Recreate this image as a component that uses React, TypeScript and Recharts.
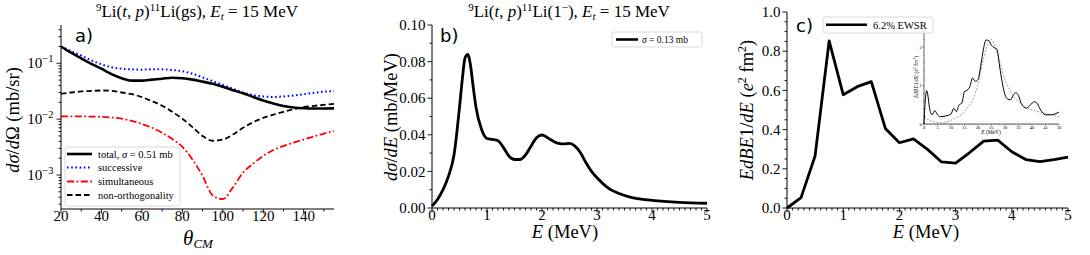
import React from 'react';
import { LineChart, Line, XAxis, YAxis } from 'recharts';

const SERIF = '"Liberation Serif", "DejaVu Serif", serif';
const SANS = '"DejaVu Sans", sans-serif';

// ---------- Panel a: 9Li(t,p)11Li(gs) angular distributions ----------
const thetaDeg = [20, 25, 30, 35, 40, 45, 50, 55, 60, 65, 70, 75, 80, 85, 90, 95, 100, 105, 110, 115, 120, 125, 130, 135, 140, 145, 150, 155];
const totalXS = [0.2, 0.155, 0.123, 0.098, 0.08, 0.064, 0.054, 0.049, 0.049, 0.051, 0.053, 0.055, 0.054, 0.051, 0.047, 0.043, 0.038, 0.033, 0.029, 0.025, 0.0215, 0.019, 0.0172, 0.0162, 0.0157, 0.0155, 0.0155, 0.0156];
const successiveXS = [0.2, 0.165, 0.138, 0.113, 0.096, 0.085, 0.08, 0.078, 0.077, 0.078, 0.078, 0.076, 0.072, 0.065, 0.056, 0.048, 0.041, 0.035, 0.03, 0.027, 0.0255, 0.025, 0.0255, 0.0265, 0.028, 0.0295, 0.031, 0.032];
const simultaneousXS = [0.0112, 0.0112, 0.0112, 0.0111, 0.011, 0.0107, 0.0102, 0.0093, 0.0082, 0.007, 0.0057, 0.0044, 0.0032, 0.0019, 0.00096, 0.00043, 0.00037, 0.0006, 0.0011, 0.0016, 0.0022, 0.0028, 0.0033, 0.0038, 0.0043, 0.0049, 0.0055, 0.0061];
const nonOrthXS = [0.0284, 0.03, 0.0313, 0.032, 0.0326, 0.032, 0.03, 0.028, 0.0248, 0.021, 0.0174, 0.0135, 0.0102, 0.0072, 0.005, 0.0041, 0.0043, 0.0053, 0.007, 0.0088, 0.0105, 0.012, 0.0135, 0.015, 0.0165, 0.0173, 0.018, 0.0188];
const thetaMajorTicks = [20, 40, 60, 80, 100, 120, 140];
const thetaMinorTicks = [30, 50, 70, 90, 110, 130, 150];
const logMajorTicks = [0.001, 0.01, 0.1];
const logMajorLabels = ['−3', '−2', '−1'];
const logMinorTicks = [0.0003, 0.0004, 0.0005, 0.0006, 0.0007, 0.0008, 0.0009, 0.002, 0.003, 0.004, 0.005, 0.006, 0.007, 0.008, 0.009, 0.02, 0.03, 0.04, 0.05, 0.06, 0.07, 0.08, 0.09, 0.2, 0.3, 0.4];

// ---------- Panel b: 9Li(t,p)11Li(1-) ----------
const energyB = [0, 0.1, 0.2, 0.3, 0.4, 0.5, 0.55, 0.6, 0.65, 0.7, 0.75, 0.8, 0.9, 1.0, 1.1, 1.2, 1.3, 1.4, 1.5, 1.6, 1.7, 1.8, 1.9, 2.0, 2.1, 2.2, 2.3, 2.4, 2.5, 2.6, 2.7, 2.8, 2.9, 3.0, 3.2, 3.4, 3.6, 3.8, 4.0, 4.5, 5.0];
const dsdeB = [0.001, 0.0046, 0.01, 0.0174, 0.029, 0.055, 0.07, 0.082, 0.084, 0.078, 0.066, 0.055, 0.043, 0.038, 0.0375, 0.0368, 0.033, 0.0283, 0.0265, 0.0265, 0.029, 0.0338, 0.0384, 0.0399, 0.0384, 0.0366, 0.0353, 0.035, 0.0353, 0.0338, 0.0302, 0.0247, 0.02, 0.0165, 0.011, 0.0079, 0.006, 0.0049, 0.0042, 0.0031, 0.0026];
const bXMajor = [0, 1, 2, 3, 4, 5];
const bXMinor = [0.1, 0.2, 0.3, 0.4, 0.5, 0.6, 0.7, 0.8, 0.9, 1.1, 1.2, 1.3, 1.4, 1.5, 1.6, 1.7, 1.8, 1.9, 2.1, 2.2, 2.3, 2.4, 2.5, 2.6, 2.7, 2.8, 2.9, 3.1, 3.2, 3.3, 3.4, 3.5, 3.6, 3.7, 3.8, 3.9, 4.1, 4.2, 4.3, 4.4, 4.5, 4.6, 4.7, 4.8, 4.9];
const bYMajor = [0, 0.02, 0.04, 0.06, 0.08, 0.1];
const bYMinor = [0.01, 0.03, 0.05, 0.07, 0.09];

// ---------- Panel c: E dB(E1)/dE ----------
const energyC = [0, 0.25, 0.5, 0.75, 1.0, 1.25, 1.5, 1.75, 2.0, 2.25, 2.5, 2.75, 3.0, 3.25, 3.5, 3.75, 4.0, 4.25, 4.5, 4.75, 5.0];
const bE1C = [0.0, 0.053, 0.266, 0.853, 0.578, 0.619, 0.645, 0.406, 0.333, 0.353, 0.299, 0.235, 0.229, 0.283, 0.341, 0.346, 0.287, 0.247, 0.237, 0.247, 0.259];
const cYMajor = [0, 0.2, 0.4, 0.6, 0.8, 1.0];
const cYMinor = [0.05, 0.1, 0.15, 0.25, 0.3, 0.35, 0.45, 0.5, 0.55, 0.65, 0.7, 0.75, 0.85, 0.9, 0.95];

// ---------- Inset of panel c ----------
const insetESolid = [0, 0.5, 1, 1.5, 2, 3, 4, 5, 6, 8, 10, 11, 12, 13, 14, 15, 16, 17, 18, 19, 20, 21, 22, 23, 24, 25, 26, 27, 28, 29, 30, 31, 32, 33, 34, 35, 36, 37, 38, 39, 40, 41, 42, 43, 45, 47, 50];
const insetSolid = [0, 0.63, 0.87, 0.72, 0.44, 0.24, 0.35, 0.24, 0.19, 0.21, 0.26, 0.41, 0.32, 0.5, 0.54, 0.85, 0.88, 0.98, 1.2, 1.11, 1.16, 1.51, 1.95, 2.19, 2.17, 2.05, 1.99, 1.95, 1.51, 1.07, 0.76, 0.65, 0.63, 0.74, 0.82, 0.74, 0.54, 0.44, 0.41, 0.47, 0.54, 0.58, 0.53, 0.39, 0.24, 0.24, 0.31];
const insetEDashed = [0, 2, 4, 6, 8, 10, 12, 14, 16, 18, 20, 22, 24, 25, 26, 28, 30, 32, 35, 38, 40, 45, 50];
const insetDashed = [0.19, 0.1, 0.05, 0.035, 0.05, 0.1, 0.17, 0.25, 0.41, 0.63, 1.03, 1.68, 2.14, 2.21, 2.08, 1.64, 1.16, 0.85, 0.59, 0.44, 0.37, 0.28, 0.19];
const insetXMajor = [0, 5, 10, 15, 20, 25, 30, 35, 40, 45, 50];
const insetXMinor = [1, 2, 3, 4, 6, 7, 8, 9, 11, 12, 13, 14, 16, 17, 18, 19, 21, 22, 23, 24, 26, 27, 28, 29, 31, 32, 33, 34, 36, 37, 38, 39, 41, 42, 43, 44, 46, 47, 48, 49];
const insetYMajor = [0, 1, 2];
const insetYMinor = [0.2, 0.4, 0.6, 0.8, 1.2, 1.4, 1.6, 1.8, 2.2, 2.4];

// ---------- helpers ----------
type TickOpts = {
  side: 'left' | 'bottom' | 'top' | 'right';
  major: number[];
  fs: number;
  len: number;
  mlen: number;
  gap: number;
  labels?: boolean;
  fmt?: (v: number, i: number) => React.ReactNode;
  sw?: number;
};

const isIn = (arr: number[], v: number) =>
  arr.findIndex((m) => Math.abs(m - v) <= 1e-6 * Math.max(Math.abs(m), 1e-12));

const makeTick = (o: TickOpts) => (props: any) => {
  const { x, y, payload } = props;
  const v = Number(payload.value);
  const idx = isIn(o.major, v);
  const isMajor = idx >= 0;
  const L = isMajor ? o.len : o.mlen;
  const sw = o.sw ?? 0.9;
  const label = isMajor && o.labels !== false ? (o.fmt ? o.fmt(v, idx) : String(v)) : null;
  if (o.side === 'left') {
    return (
      <g>
        <line x1={x} y1={y} x2={x - L} y2={y} stroke="#000" strokeWidth={sw} />
        {label !== null && (
          <text x={x - o.len - o.gap} y={y + o.fs * 0.34} textAnchor="end" fontSize={o.fs} fontFamily={SERIF} fill="#000">
            {label}
          </text>
        )}
      </g>
    );
  }
  if (o.side === 'bottom') {
    return (
      <g>
        <line x1={x} y1={y} x2={x} y2={y + L} stroke="#000" strokeWidth={sw} />
        {label !== null && (
          <text x={x} y={y + o.len + o.gap + o.fs * 0.7} textAnchor="middle" fontSize={o.fs} fontFamily={SERIF} fill="#000">
            {label}
          </text>
        )}
      </g>
    );
  }
  if (o.side === 'top') {
    return <line x1={x} y1={y} x2={x} y2={y + L} stroke="#000" strokeWidth={sw} />;
  }
  return <line x1={x} y1={y} x2={x - L} y2={y} stroke="#000" strokeWidth={sw} />;
};

const AX = { stroke: '#000', strokeWidth: 1 };

const dataA = thetaDeg.map((t, i) => ({
  theta: t,
  total: totalXS[i],
  successive: successiveXS[i],
  simultaneous: simultaneousXS[i],
  nonorth: nonOrthXS[i],
}));
const dataB = energyB.map((e, i) => ({ e, v: dsdeB[i] }));
const dataC = energyC.map((e, i) => ({ e, v: bE1C[i] }));
const insetSolidData = insetESolid.map((e, i) => ({ e, v: insetSolid[i] }));
const insetDashedData = insetEDashed.map((e, i) => ({ e, v: insetDashed[i] }));

const DASH_SUCC = '1.6 2.6';
const DASH_SIM = '7 2.5 1.8 2.5';
const DASH_NON = '5.5 3';
const XGAP = -3.5;

function ChartA() {
  return (
    <LineChart width={345} height={255} data={dataA} margin={{ top: 25, right: 11, bottom: 16, left: 0 }}>
      <XAxis
        dataKey="theta"
        type="number"
        domain={[20, 155]}
        ticks={[...thetaMajorTicks, ...thetaMinorTicks]}
        interval={0}
        height={30}
        tickSize={0}
        tickMargin={0}
        tickLine={false}
        axisLine={AX}
        allowDataOverflow
        tick={makeTick({ side: 'bottom', major: thetaMajorTicks, fs: 15, len: 4.5, mlen: 2.5, gap: XGAP })}
      />
      <XAxis xAxisId="top" orientation="top" dataKey="theta" type="number" domain={[20, 155]} height={0} tick={false} tickLine={false} axisLine={AX} />
      <YAxis
        type="number"
        scale="log"
        domain={[0.000246, 0.485]}
        allowDataOverflow
        ticks={[...logMajorTicks, ...logMinorTicks]}
        interval={0}
        width={61}
        tickSize={0}
        tickMargin={0}
        tickLine={false}
        axisLine={AX}
        tick={makeTick({
          side: 'left',
          major: logMajorTicks,
          fs: 15,
          len: 4.5,
          mlen: 2.5,
          gap: 3,
          fmt: (_v, i) => (
            <>
              <tspan>10</tspan>
              <tspan dy={-6} fontSize={10.5}>{logMajorLabels[i]}</tspan>
            </>
          ),
        })}
      />
      <YAxis yAxisId="right" orientation="right" type="number" domain={[0, 1]} width={0} tick={false} tickLine={false} axisLine={AX} />
      <Line dataKey="successive" type="monotone" stroke="#0000ff" strokeWidth={2} strokeDasharray={DASH_SUCC} dot={false} activeDot={false} isAnimationActive={false} />
      <Line dataKey="simultaneous" type="monotone" stroke="#ff0000" strokeWidth={1.8} strokeDasharray={DASH_SIM} dot={false} activeDot={false} isAnimationActive={false} />
      <Line dataKey="nonorth" type="monotone" stroke="#000" strokeWidth={1.8} strokeDasharray={DASH_NON} dot={false} activeDot={false} isAnimationActive={false} />
      <Line dataKey="total" type="monotone" stroke="#000" strokeWidth={2.6} dot={false} activeDot={false} isAnimationActive={false} />
    </LineChart>
  );
}

function ChartB() {
  return (
    <LineChart width={375} height={255} data={dataB} margin={{ top: 25, right: 13, bottom: 17, left: 0 }}>
      <XAxis
        dataKey="e"
        type="number"
        domain={[0, 5]}
        ticks={[...bXMajor, ...bXMinor]}
        interval={0}
        height={30}
        tickSize={0}
        tickMargin={0}
        tickLine={false}
        axisLine={AX}
        tick={makeTick({ side: 'bottom', major: bXMajor, fs: 15, len: 4.5, mlen: 2.5, gap: XGAP })}
      />
      <XAxis xAxisId="top" orientation="top" dataKey="e" type="number" domain={[0, 5]} height={0} tick={false} tickLine={false} axisLine={AX} />
      <YAxis
        type="number"
        domain={[0, 0.1]}
        ticks={[...bYMajor, ...bYMinor]}
        interval={0}
        width={87}
        tickSize={0}
        tickMargin={0}
        tickLine={false}
        axisLine={AX}
        tick={makeTick({ side: 'left', major: bYMajor, fs: 15, len: 4.5, mlen: 2.5, gap: 2, fmt: (v) => v.toFixed(2) })}
      />
      <YAxis yAxisId="right" orientation="right" type="number" domain={[0, 1]} width={0} tick={false} tickLine={false} axisLine={AX} />
      <Line dataKey="v" type="monotone" stroke="#000" strokeWidth={2.8} dot={false} activeDot={false} isAnimationActive={false} />
    </LineChart>
  );
}

function ChartC() {
  return (
    <LineChart width={370} height={255} data={dataC} margin={{ top: 12, right: 22, bottom: 17, left: 0 }}>
      <XAxis
        dataKey="e"
        type="number"
        domain={[0, 5]}
        ticks={[...bXMajor, ...bXMinor]}
        interval={0}
        height={30}
        tickSize={0}
        tickMargin={0}
        tickLine={false}
        axisLine={AX}
        tick={makeTick({ side: 'bottom', major: bXMajor, fs: 15, len: 4.5, mlen: 2.5, gap: XGAP })}
      />
      <XAxis xAxisId="top" orientation="top" dataKey="e" type="number" domain={[0, 5]} height={0} tick={false} tickLine={false} axisLine={AX} />
      <YAxis
        type="number"
        domain={[0, 1]}
        ticks={[...cYMajor, ...cYMinor]}
        interval={0}
        width={67}
        tickSize={0}
        tickMargin={0}
        tickLine={false}
        axisLine={AX}
        tick={makeTick({ side: 'left', major: cYMajor, fs: 15, len: 4.5, mlen: 2.5, gap: 2, fmt: (v) => v.toFixed(1) })}
      />
      <YAxis yAxisId="right" orientation="right" type="number" domain={[0, 1]} width={0} tick={false} tickLine={false} axisLine={AX} />
      <Line dataKey="v" type="linear" stroke="#000" strokeWidth={2.8} strokeLinejoin="round" dot={false} activeDot={false} isAnimationActive={false} />
    </LineChart>
  );
}

const AXI = { stroke: '#000', strokeWidth: 0.6 };

function InsetC() {
  return (
    <LineChart width={170} height={110} margin={{ top: 8, right: 6, bottom: 0, left: 0 }}>
      <XAxis
        dataKey="e"
        type="number"
        domain={[0, 50]}
        ticks={[...insetXMajor, ...insetXMinor]}
        interval={0}
        height={8}
        tickSize={0}
        tickMargin={0}
        tickLine={false}
        axisLine={AXI}
        allowDuplicatedCategory={false}
        tick={makeTick({ side: 'bottom', major: insetXMajor, fs: 4.5, len: 1.5, mlen: 0.8, gap: 0.8, sw: 0.5 })}
      />
      <XAxis
        xAxisId="top"
        orientation="top"
        dataKey="e"
        type="number"
        domain={[0, 50]}
        ticks={[...insetXMajor, ...insetXMinor]}
        interval={0}
        height={0}
        tickSize={0}
        tickMargin={0}
        tickLine={false}
        axisLine={AXI}
        tick={makeTick({ side: 'top', major: insetXMajor, fs: 4.5, len: 1.5, mlen: 0.8, gap: 0.8, sw: 0.5 })}
      />
      <YAxis
        type="number"
        domain={[0, 2.45]}
        ticks={[...insetYMajor, ...insetYMinor]}
        interval={0}
        width={29}
        tickSize={0}
        tickMargin={0}
        tickLine={false}
        axisLine={AXI}
        allowDataOverflow
        tick={makeTick({ side: 'left', major: insetYMajor, fs: 4.5, len: 1.5, mlen: 0.8, gap: 0.8, sw: 0.5 })}
      />
      <YAxis
        yAxisId="right"
        orientation="right"
        type="number"
        domain={[0, 2.45]}
        ticks={[...insetYMajor, ...insetYMinor]}
        interval={0}
        width={0}
        tickSize={0}
        tickMargin={0}
        tickLine={false}
        axisLine={AXI}
        tick={makeTick({ side: 'right', major: insetYMajor, fs: 4.5, len: 1.5, mlen: 0.8, gap: 0.8, sw: 0.5 })}
      />
      <Line data={insetDashedData} dataKey="v" type="monotone" stroke="#777" strokeWidth={0.7} strokeDasharray="2 1.5" dot={false} activeDot={false} isAnimationActive={false} />
      <Line data={insetSolidData} dataKey="v" type="monotone" stroke="#000" strokeWidth={1} dot={false} activeDot={false} isAnimationActive={false} />
    </LineChart>
  );
}

function Overlay() {
  const it = { fontStyle: 'italic' as const };
  return (
    <svg width={1090} height={255} style={{ position: 'absolute', left: 0, top: 0, pointerEvents: 'none' }}>
      {/* titles */}
      <text x={197} y={17} textAnchor="middle" fontFamily={SERIF} fontSize={17} fill="#000">
        <tspan fontSize={11} dy={-6}>9</tspan>
        <tspan dy={6}>Li(</tspan>
        <tspan {...it}>t</tspan>
        <tspan>{', '}</tspan>
        <tspan {...it}>p</tspan>
        <tspan>)</tspan>
        <tspan fontSize={11} dy={-6}>11</tspan>
        <tspan dy={6}>{'Li(gs), '}</tspan>
        <tspan {...it}>E</tspan>
        <tspan fontSize={11} dy={3} {...it}>t</tspan>
        <tspan dy={-3}>{' = 15 MeV'}</tspan>
      </text>
      <text x={569} y={17} textAnchor="middle" fontFamily={SERIF} fontSize={17} fill="#000">
        <tspan fontSize={11} dy={-6}>9</tspan>
        <tspan dy={6}>Li(</tspan>
        <tspan {...it}>t</tspan>
        <tspan>{', '}</tspan>
        <tspan {...it}>p</tspan>
        <tspan>)</tspan>
        <tspan fontSize={11} dy={-6}>11</tspan>
        <tspan dy={6}>Li(1</tspan>
        <tspan fontSize={11} dy={-6}>−</tspan>
        <tspan dy={6}>{'), '}</tspan>
        <tspan {...it}>E</tspan>
        <tspan fontSize={11} dy={3} {...it}>t</tspan>
        <tspan dy={-3}>{' = 15 MeV'}</tspan>
      </text>

      {/* panel letters */}
      <text x={75} y={42} fontFamily={SANS} fontSize={18} fill="#000">a)</text>
      <text x={440} y={42} fontFamily={SANS} fontSize={18} fill="#000">b)</text>
      <text x={796} y={32} fontFamily={SANS} fontSize={18} fill="#000">c)</text>

      {/* x labels */}
      <text x={198} y={245} textAnchor="middle" fontFamily={SERIF} fill="#000">
        <tspan fontSize={21} {...it}>θ</tspan>
        <tspan fontSize={13} dy={3} {...it}>CM</tspan>
      </text>
      <text x={565} y={237.5} textAnchor="middle" fontFamily={SERIF} fontSize={18.5} fill="#000">
        <tspan {...it}>E</tspan>
        <tspan>{' (MeV)'}</tspan>
      </text>
      <text x={926} y={237.5} textAnchor="middle" fontFamily={SERIF} fontSize={18.5} fill="#000">
        <tspan {...it}>E</tspan>
        <tspan>{' (MeV)'}</tspan>
      </text>

      {/* y labels */}
      <text transform="translate(19,120) rotate(-90)" textAnchor="middle" fontFamily={SERIF} fontSize={18.5} fill="#000">
        <tspan {...it}>dσ</tspan>
        <tspan>/</tspan>
        <tspan {...it}>d</tspan>
        <tspan>{'Ω (mb/sr)'}</tspan>
      </text>
      <text transform="translate(397,117) rotate(-90)" textAnchor="middle" fontFamily={SERIF} fontSize={18.5} fill="#000">
        <tspan {...it}>dσ</tspan>
        <tspan>/</tspan>
        <tspan {...it}>dE</tspan>
        <tspan>{' (mb/MeV)'}</tspan>
      </text>
      <text transform="translate(753,110) rotate(-90)" textAnchor="middle" fontFamily={SERIF} fontSize={18.5} fill="#000">
        <tspan {...it}>EdBE</tspan>
        <tspan>1/</tspan>
        <tspan {...it}>dE</tspan>
        <tspan>{' ('}</tspan>
        <tspan {...it}>e</tspan>
        <tspan fontSize={12} dy={-7}>2</tspan>
        <tspan dy={7}>{' fm'}</tspan>
        <tspan fontSize={12} dy={-7}>2</tspan>
        <tspan dy={7}>)</tspan>
      </text>

      {/* legend a */}
      <rect x={65} y={147} width={115} height={59} rx={3} fill="#fff" fillOpacity={0.8} stroke="#d0d0d0" strokeWidth={0.8} />
      <line x1={67} y1={154} x2={92} y2={154} stroke="#000" strokeWidth={2.6} />
      <text x={98} y={157.5} fontFamily={SERIF} fontSize={10.5} fill="#000">
        <tspan>{'total, '}</tspan>
        <tspan {...it}>σ</tspan>
        <tspan>{' = 0.51 mb'}</tspan>
      </text>
      <line x1={67} y1={167.5} x2={92} y2={167.5} stroke="#0000ff" strokeWidth={2} strokeDasharray={DASH_SUCC} />
      <text x={98} y={171} fontFamily={SERIF} fontSize={10.5} fill="#000">successive</text>
      <line x1={67} y1={181.5} x2={92} y2={181.5} stroke="#ff0000" strokeWidth={1.8} strokeDasharray={DASH_SIM} />
      <text x={98} y={185} fontFamily={SERIF} fontSize={10.5} fill="#000">simultaneous</text>
      <line x1={67} y1={195} x2={92} y2={195} stroke="#000" strokeWidth={1.8} strokeDasharray={DASH_NON} />
      <text x={98} y={198.5} fontFamily={SERIF} fontSize={10.5} fill="#000">non-orthogonality</text>

      {/* legend b */}
      <rect x={612} y={32} width={90} height={15} rx={2} fill="#fff" fillOpacity={0.8} stroke="#d0d0d0" strokeWidth={0.8} />
      <line x1={616} y1={39.5} x2={638} y2={39.5} stroke="#000" strokeWidth={2.6} />
      <text x={642} y={43} fontFamily={SERIF} fontSize={9.5} fill="#000">
        <tspan {...it}>σ</tspan>
        <tspan>{' = 0.13 mb'}</tspan>
      </text>

      {/* legend c */}
      <rect x={823} y={17} width={110} height={16} rx={2} fill="#fff" fillOpacity={0.8} stroke="#d0d0d0" strokeWidth={0.8} />
      <line x1={826} y1={24.7} x2={867} y2={24.7} stroke="#000" strokeWidth={2.6} />
      <text x={873} y={28.5} fontFamily={SERIF} fontSize={10.5} fill="#000">6.2% EWSR</text>

      {/* inset labels */}
      <text transform="translate(918,77) rotate(-90)" textAnchor="middle" fontFamily={SERIF} fontSize={5.5} fill="#000">
        <tspan {...it}>EdBE</tspan>
        <tspan>1/</tspan>
        <tspan {...it}>dE</tspan>
        <tspan>{' ('}</tspan>
        <tspan {...it}>e</tspan>
        <tspan fontSize={3.8} dy={-2}>2</tspan>
        <tspan dy={2}>{' fm'}</tspan>
        <tspan fontSize={3.8} dy={-2}>2</tspan>
        <tspan dy={2}>)</tspan>
      </text>
      <text x={991} y={134} textAnchor="middle" fontFamily={SERIF} fontSize={5.5} fill="#000">
        <tspan {...it}>E</tspan>
        <tspan>{' (MeV)'}</tspan>
      </text>
    </svg>
  );
}

export default function App() {
  return (
    <div style={{ position: 'absolute', left: 0, top: 0, width: 1090, height: 255, background: '#fff', overflow: 'hidden' }}>
      <div style={{ position: 'absolute', left: 0, top: 0 }}>
        <ChartA />
      </div>
      <div style={{ position: 'absolute', left: 345, top: 0 }}>
        <ChartB />
      </div>
      <div style={{ position: 'absolute', left: 720, top: 0 }}>
        <ChartC />
      </div>
      <div style={{ position: 'absolute', left: 895, top: 22 }}>
        <InsetC />
      </div>
      <Overlay />
    </div>
  );
}
